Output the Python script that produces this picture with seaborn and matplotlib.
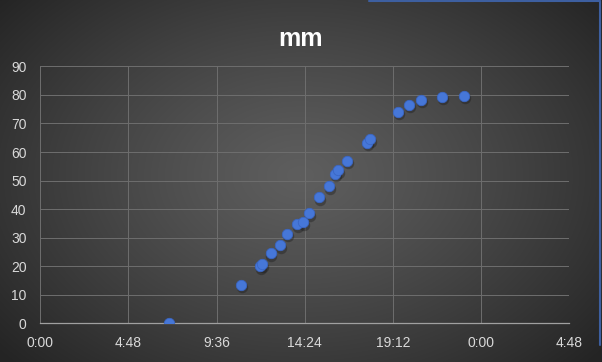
import numpy as np
import pandas as pd
import matplotlib
matplotlib.use("Agg")
import matplotlib.pyplot as plt
import seaborn as sns
from matplotlib.ticker import FixedLocator, FixedFormatter

# ---- data ----
times = ["7:00", "10:57", "11:57", "12:04", "12:32", "13:02", "13:25", "13:58",
         "14:18", "14:37", "15:11", "15:44", "16:02", "16:13", "16:41", "17:48",
         "17:56", "19:28", "20:04", "20:43", "21:52", "23:05"]
mm = [0.0, 13.5, 19.9, 20.6, 24.6, 27.3, 31.3, 34.7,
      35.4, 38.5, 44.2, 48.1, 52.4, 53.7, 56.9, 63.3,
      64.4, 74.1, 76.5, 78.3, 79.4, 79.7]
x_ticks = [0.0, 0.2, 0.4, 0.6, 0.8, 1.0, 1.2]
x_tick_labels = ["0:00", "4:48", "9:36", "14:24", "19:12", "0:00", "4:48"]
y_ticks = [0, 10, 20, 30, 40, 50, 60, 70, 80, 90]
title = "mm"

def to_day(t):
    h, m = t.split(":")
    return (int(h) + int(m) / 60.0) / 24.0

df = pd.DataFrame({"day": [to_day(t) for t in times], "mm": mm})

sns.set_theme(style="dark")
plt.rcParams["font.family"] = ["Liberation Sans", "DejaVu Sans"]

fig = plt.figure(figsize=(6.02, 3.62), dpi=100)

# radial gradient background
bg = fig.add_axes([0, 0, 1, 1], zorder=-10)
H, W = 362, 602
yy, xx = np.mgrid[0:H, 0:W]
cx, cy = 300, 175
r = np.sqrt(((xx - cx) / 330.0) ** 2 + ((yy - cy) / 230.0) ** 2)
r = np.clip(r, 0, 1.2)
c_in = np.array([0x5e, 0x5e, 0x5e]) / 255.0
c_out = np.array([0x24, 0x24, 0x24]) / 255.0
t = (r / 1.2)[..., None] ** 1.2
img = c_in * (1 - t) + c_out * t
bg.imshow(img, aspect="auto", extent=[0, 1, 0, 1], origin="upper")
bg.set_axis_off()

ax = fig.add_axes([0.067, 0.107, 0.8787, 0.7096])
ax.set_facecolor("none")

# shadow
ax.scatter(df["day"] + 0.002, df["mm"] - 0.9, s=68, color="#151515", alpha=0.35,
           linewidths=0, zorder=2)
sns.scatterplot(data=df, x="day", y="mm", ax=ax, s=56, color="#4677d8",
                edgecolor="#3a66c4", linewidth=0.6, zorder=3, legend=False)

ax.set_xlim(0, 1.2)
ax.set_ylim(0, 90)
ax.xaxis.set_major_locator(FixedLocator(x_ticks))
ax.xaxis.set_major_formatter(FixedFormatter(x_tick_labels))
ax.set_yticks(y_ticks)
ax.grid(True, color="#6e6e6e", linewidth=0.7)
for s in ["top", "right", "left"]:
    ax.spines[s].set_visible(False)
ax.spines["bottom"].set_color("#a0a0a0")
ax.spines["bottom"].set_linewidth(0.9)
ax.tick_params(axis="both", colors="#d9d9d9", labelsize=10, length=0)
ax.tick_params(axis="x", pad=9)
ax.tick_params(axis="y", pad=10)
ax.set_xlabel("")
ax.set_ylabel("")

fig.text(0.5, 0.893, title, ha="center", va="center", color="white",
         fontsize=18, fontweight="bold")

# thin blue border fragments of the original screenshot
fig.add_artist(plt.Line2D([369 / W, 600 / W], [1 - 1 / H, 1 - 1 / H],
                          color="#3d5fa0", linewidth=1.5, transform=fig.transFigure))
fig.add_artist(plt.Line2D([600 / W, 600 / W], [1 - 1 / H, 1 - 345 / H],
                          color="#3d5fa0", linewidth=1.5, transform=fig.transFigure))

fig.savefig("out.png", dpi=100)
